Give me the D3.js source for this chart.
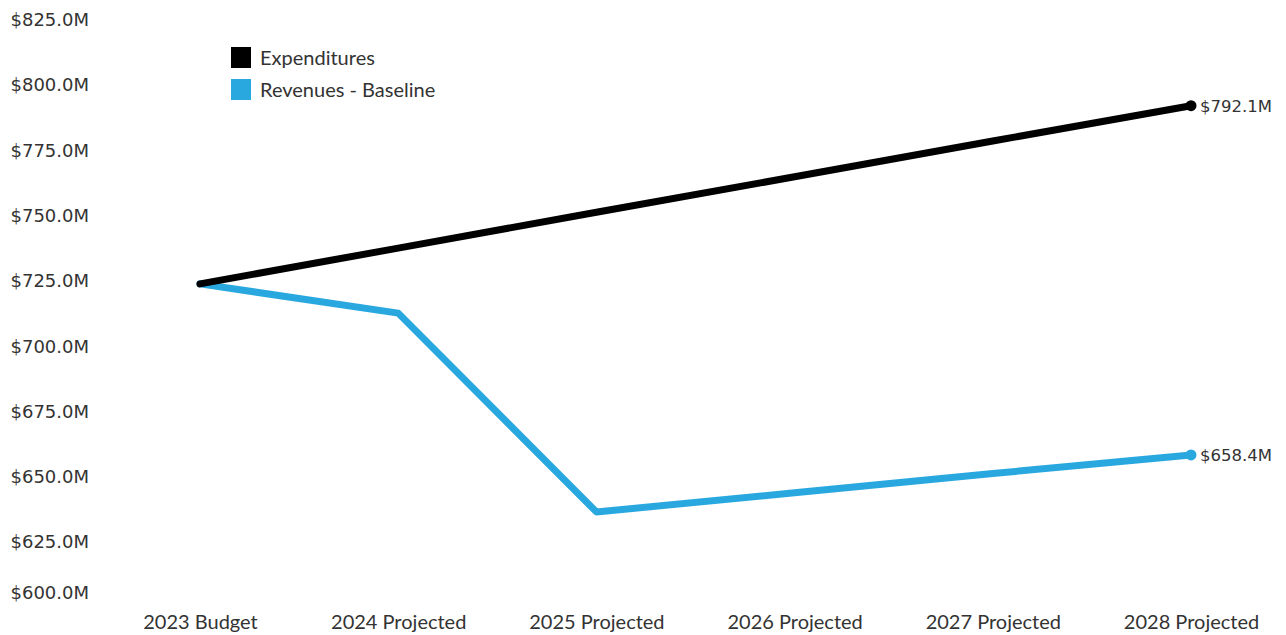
<!DOCTYPE html>
<html>
<head>
<script src="https://d3js.org/d3.v7.min.js"></script>
<style>
body { margin: 0; background: #fff; }
.ylab { font-family: "DejaVu Sans", sans-serif; font-size: 18px; fill: #333; }
.xlab { font-family: Lato, sans-serif; font-size: 20px; fill: #333; }
.leg { font-family: Lato, sans-serif; font-size: 20px; fill: #333; }
.endlab { font-family: "DejaVu Sans", sans-serif; font-size: 16.5px; fill: #333; }
</style>
</head>
<body>
<div id="chart"></div>
<script>
// values, in $M
const years = ["2023 Budget", "2024 Projected", "2025 Projected", "2026 Projected", "2027 Projected", "2028 Projected"];
const expenditures = [723.9, 737.6, 751.3, 764.9, 778.6, 792.1];
const revenues = [723.9, 712.7, 636.6, 643.9, 651.3, 658.4];
const yTicks = [600, 625, 650, 675, 700, 725, 750, 775, 800, 825];
const seriesNames = ["Expenditures", "Revenues - Baseline"];
const colors = ["#000000", "#29a8e0"];

const W = 1286, H = 635;

const svg = d3.select("#chart").append("svg")
  .attr("width", W).attr("height", H);

const x = d3.scalePoint().domain(years).range([200, 1191]);
const y = d3.scaleLinear().domain([600, 825]).range([607.5, 19.8]);

// y axis (labels only)
const yAxis = svg.append("g")
  .attr("transform", "translate(89,0)")
  .call(d3.axisLeft(y).tickValues(yTicks).tickSize(0).tickPadding(0)
    .tickFormat(d => "$" + d3.format(".1f")(d) + "M"));
yAxis.select(".domain").remove();
yAxis.selectAll("text").attr("class", "ylab").attr("font-family", null).attr("font-size", null)
  .attr("dy", d => d === 600 ? "-0.5em" : "0.32em");

// x axis (labels only)
const xAxis = svg.append("g")
  .attr("transform", "translate(0,612)")
  .call(d3.axisBottom(x).tickSize(0).tickPadding(0));
xAxis.select(".domain").remove();
xAxis.selectAll("text").attr("class", "xlab").attr("font-family", null).attr("font-size", null)
  .attr("dy", "0.85em");

const series = [expenditures, revenues];
const line = d3.line().x((d, i) => x(years[i])).y(d => y(d));

// draw blue first so black sits on top at the shared start
[1, 0].forEach(k => {
  svg.append("path")
    .datum(series[k])
    .attr("fill", "none")
    .attr("stroke", colors[k])
    .attr("stroke-width", 7)
    .attr("stroke-linejoin", "round")
    .attr("stroke-linecap", "round")
    .attr("d", line);

  const last = series[k].length - 1;
  svg.append("circle")
    .attr("cx", x(years[last]))
    .attr("cy", y(series[k][last]))
    .attr("r", 5.5)
    .attr("fill", colors[k]);

  svg.append("text")
    .attr("class", "endlab")
    .attr("x", x(years[last]) + 9)
    .attr("y", y(series[k][last]))
    .attr("dy", "0.35em")
    .text("$" + d3.format(".1f")(series[k][last]) + "M");
});

// legend
const leg = svg.append("g").attr("transform", "translate(231,47)");
seriesNames.forEach((name, i) => {
  leg.append("rect")
    .attr("x", 0).attr("y", i * 32)
    .attr("width", 20).attr("height", 21)
    .attr("fill", colors[i]);
  leg.append("text")
    .attr("class", "leg")
    .attr("x", 29).attr("y", i * 32 + 10.5)
    .attr("dy", "0.35em")
    .text(name);
});
</script>
</body>
</html>
